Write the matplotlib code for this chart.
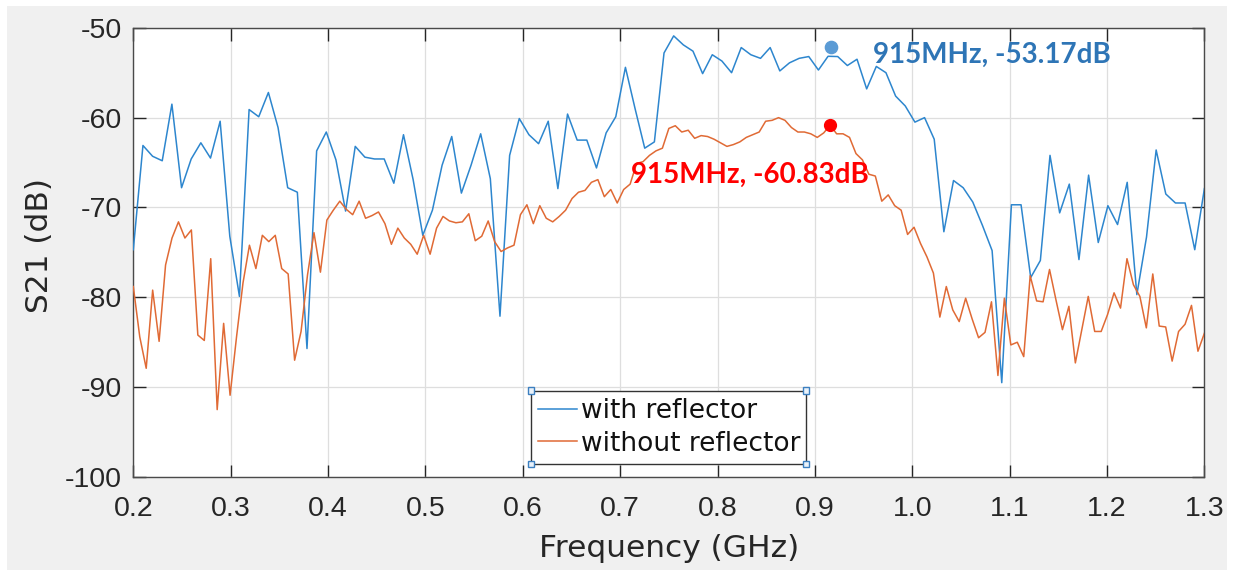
import numpy as np
import matplotlib
matplotlib.use("Agg")
import matplotlib.pyplot as plt
from matplotlib.patches import Rectangle
from matplotlib.lines import Line2D

# ---------------- data ----------------
with_reflector_db = [
    -74.7, -63.1, -64.3, -64.8, -58.5, -67.8, -64.6, -62.8, -64.5, -60.4,
    -73.2, -79.9, -59.1, -59.9, -57.2, -61.1, -67.8, -68.3, -85.7, -63.7,
    -61.6, -64.7, -70.4, -63.2, -64.4, -64.6, -64.6, -67.3, -61.9, -66.9,
    -73.1, -70.3, -65.3, -62.1, -68.4, -65.3, -61.8, -66.8, -82.1, -64.2,
    -60.1, -61.9, -62.9, -60.4, -67.9, -59.6, -62.5, -62.5, -65.6, -61.7,
    -59.9, -54.4, -59.0, -63.4, -62.7, -52.8, -50.9, -51.9, -52.6, -55.1,
    -53.0, -53.7, -55.0, -52.2, -53.0, -53.4, -52.2, -54.8, -53.9, -53.4,
    -53.2, -54.7, -53.17, -53.2, -54.2, -53.5, -56.8, -54.3, -55.0, -57.6,
    -58.7, -60.5, -60.0, -62.4, -72.7, -67.0, -67.8, -69.4, -72.0, -74.8,
    -89.5, -69.7, -69.7, -77.8, -75.9, -64.2, -70.6, -67.4, -75.8, -66.4,
    -73.9, -69.8, -71.9, -67.2, -79.7, -73.3, -63.6, -68.5, -69.5, -69.5,
    -74.7, -67.9,
]

without_reflector_db = [
    -78.8, -84.4, -87.9, -79.2, -84.9, -76.4, -73.4, -71.6, -73.4, -72.5,
    -84.2, -84.8, -75.7, -92.5, -82.9, -90.9, -84.4, -78.4, -74.2, -76.8,
    -73.1, -73.8, -73.1, -76.8, -77.4, -87.0, -83.8, -77.5, -72.8, -77.2,
    -71.4, -70.3, -69.3, -70.2, -70.8, -69.3, -71.2, -70.9, -70.5, -71.8,
    -74.1, -72.3, -73.4, -74.1, -75.2, -73.1, -75.2, -72.3, -71.0, -71.5,
    -71.7, -71.6, -70.7, -73.7, -73.2, -71.5, -73.8, -74.9, -74.5, -74.2,
    -70.8, -69.7, -71.8, -69.8, -71.2, -71.6, -71.0, -70.3, -69.0, -68.3,
    -68.1, -67.2, -66.9, -68.8, -68.0, -69.5, -68.0, -67.4, -65.1, -64.9,
    -64.2, -63.7, -63.4, -61.2, -60.9, -61.6, -61.4, -62.3, -62.0, -62.1,
    -62.4, -62.8, -63.2, -63.0, -62.7, -62.2, -61.9, -61.6, -60.4, -60.3,
    -60.0, -60.3, -61.1, -61.6, -61.6, -61.8, -62.2, -61.7, -60.83, -61.8,
    -61.8, -62.2, -64.0, -64.7, -66.3, -66.5, -69.3, -68.6, -69.8, -70.3,
    -73.0, -72.2, -74.0, -75.5, -77.3, -82.2, -78.8, -81.4, -82.7, -80.1,
    -82.4, -84.5, -83.9, -80.5, -88.7, -80.1, -85.3, -85.0, -86.6, -77.6,
    -80.4, -80.5, -76.9, -80.3, -83.6, -81.0, -87.3, -83.6, -79.9, -83.8,
    -83.8, -81.9, -79.5, -81.2, -75.7, -78.6, -79.9, -83.4, -77.4, -83.2,
    -83.3, -87.1, -83.8, -83.0, -80.9, -86.0, -84.0,
]

freq_start_ghz = 0.2
freq_stop_ghz = 1.3
freq_with = np.linspace(freq_start_ghz, freq_stop_ghz, len(with_reflector_db))
freq_without = np.linspace(freq_start_ghz, freq_stop_ghz, len(without_reflector_db))

series_labels = ["with reflector", "without reflector"]
x_ticks = [0.2, 0.3, 0.4, 0.5, 0.6, 0.7, 0.8, 0.9, 1.0, 1.1, 1.2, 1.3]
x_tick_labels = ["0.2", "0.3", "0.4", "0.5", "0.6", "0.7", "0.8", "0.9",
                 "1.0", "1.1", "1.2", "1.3"]
y_ticks = [-100, -90, -80, -70, -60, -50]
y_tick_labels = ["-100", "-90", "-80", "-70", "-60", "-50"]

# annotation values
ann_mhz = [915, 915]
ann_db = [-53.17, -60.83]
marker_freq = [0.917, 0.9157]
marker_db = [-52.1, -60.83]
ann_text_x = [0.9594, 0.711]
ann_text_y = [-53.88, -67.26]

# ---------------- styling ----------------
C_BLUE = "#2D86CE"
C_ORANGE = "#E06A35"
C_AX = "#262626"

plt.rcParams["font.family"] = ["Liberation Sans", "DejaVu Sans"]

W, H = 1233, 570
fig = plt.figure(figsize=(W / 100, H / 100), dpi=100)
fig.patch.set_facecolor("white")
fig.add_artist(Rectangle((7 / W, 0), (1227 - 7) / W, (H - 6) / H,
                         transform=fig.transFigure, facecolor="#F0F0F0",
                         edgecolor="none", zorder=-10))

ax = fig.add_axes([133.3 / W, (H - 477) / H, (1204.4 - 133.3) / W, (477 - 27.8) / H])
ax.set_facecolor("white")

ax.plot(freq_with, with_reflector_db, color=C_BLUE, lw=1.1, zorder=3)
ax.plot(freq_without, without_reflector_db, color=C_ORANGE, lw=1.1, zorder=3)

ax.set_xlim(freq_start_ghz, freq_stop_ghz)
ax.set_ylim(-100, -50)
ax.set_xticks(x_ticks)
ax.set_xticklabels(x_tick_labels)
ax.set_yticks(y_ticks)
ax.set_yticklabels(y_tick_labels)

ax.grid(True, color="#DEDEDE", lw=0.9)
ax.set_axisbelow(True)
for s in ax.spines.values():
    s.set_color("#4A4A4A")
    s.set_linewidth(1.0)

ax.tick_params(direction="in", length=9, width=1, color=C_AX, labelcolor=C_AX,
               top=True, right=True, labelsize=20.5)
ax.tick_params(axis="x", pad=14)
ax.tick_params(axis="y", pad=8)

ax.set_xlabel("Frequency (GHz)", fontfamily="DejaVu Sans", fontsize=22.5, color=C_AX)
ax.set_ylabel("S21 (dB)", fontfamily="DejaVu Sans", fontsize=22.5, color=C_AX)
ax.xaxis.set_label_coords(0.5, -0.128)
ax.yaxis.set_label_coords(-0.074, 0.516)

# markers and annotation texts
ax.plot(marker_freq[0], marker_db[0], "o", ms=8.8, color="#5B9BD5", zorder=6, clip_on=False)
ax.plot(marker_freq[1], marker_db[1], "o", ms=8.5, color="#FF0000", zorder=6, clip_on=False)
ann_colors = ["#2E75B6", "#FF0000"]
for k in range(2):
    ax.text(ann_text_x[k], ann_text_y[k], f"{ann_mhz[k]}MHz, {ann_db[k]:.2f}dB",
            color=ann_colors[k], fontfamily="Lato", fontweight="bold",
            fontsize=20, ha="left", va="baseline", zorder=7)

# legend
handles = [Line2D([], [], color=C_BLUE, lw=1.1), Line2D([], [], color=C_ORANGE, lw=1.1)]
leg = ax.legend(handles, series_labels, loc="lower left",
                bbox_to_anchor=(0.3713, 0.0289, 0.2567, 0.189), mode="expand",
                prop={"family": "DejaVu Sans", "size": 19}, frameon=True,
                fancybox=False, framealpha=1, edgecolor="#333333",
                handlelength=1.45, handletextpad=0.15, borderpad=0.28,
                labelspacing=0.25, borderaxespad=0)
leg.get_frame().set_linewidth(1.0)
for t in leg.get_texts():
    t.set_color("#111111")

fig.canvas.draw()
bb = leg.get_frame().get_window_extent()
sq = 6.5
for (cx, cy) in [(bb.x0, bb.y0), (bb.x1, bb.y0), (bb.x0, bb.y1), (bb.x1, bb.y1)]:
    fig.add_artist(Rectangle(((cx - sq / 2) / W, (cy - sq / 2) / H), sq / W, sq / H,
                             transform=fig.transFigure, facecolor="#EAF2FA",
                             edgecolor="#3C7FC0", lw=1.0, zorder=20))

fig.savefig("out.png", dpi=100, facecolor=fig.get_facecolor())
